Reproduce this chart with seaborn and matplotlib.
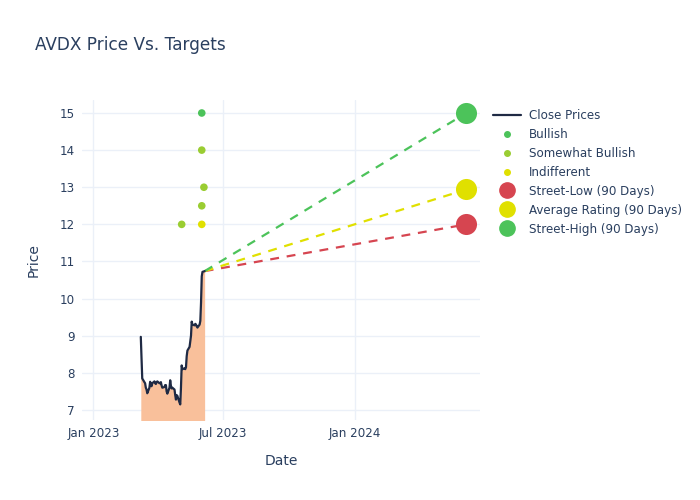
import numpy as np
import pandas as pd
import matplotlib
matplotlib.use('Agg')
import matplotlib.pyplot as plt
import matplotlib.dates as mdates
from matplotlib.lines import Line2D
import seaborn as sns

# ── Data ───────────────────────────────────────────────────────────────────────
close_dates = pd.bdate_range('2023-03-08', '2023-06-05')
close_prices = [
    8.97, 8.40, 7.85, 7.75, 7.72, 7.60, 7.55, 7.45, 7.60, 7.76,
    7.70, 7.64, 7.72, 7.77, 7.72, 7.70, 7.75, 7.77, 7.72, 7.72,
    7.75, 7.66, 7.60, 7.62, 7.67, 7.67, 7.50, 7.44, 7.60, 7.80,
    7.65, 7.58, 7.60, 7.55, 7.40, 7.28, 7.40, 7.38, 7.20, 7.15,
    7.60, 8.20, 8.10, 8.12, 8.10, 8.15, 8.45, 8.60, 8.70, 8.85,
    9.00, 9.38, 9.30, 9.28, 9.32, 9.30, 9.25, 9.22, 9.30, 9.40,
    9.90, 10.60, 10.72, 10.74,
]

rating_dates = ['2023-06-01', '2023-06-01', '2023-06-04', '2023-06-01', '2023-05-04', '2023-06-01']
rating_targets = [15.0, 14.0, 13.0, 12.5, 12.0, 12.0]
rating_labels = ['Bullish', 'Somewhat Bullish', 'Somewhat Bullish',
                 'Somewhat Bullish', 'Somewhat Bullish', 'Indifferent']

target_date = '2024-06-04'
street_low = 12.0
street_avg = 12.94
street_high = 15.0

# ── Styling ────────────────────────────────────────────────────────────────────
TEXT = '#2a3f5f'
GRID = '#ebf0f8'
LINE = '#1f2a44'
FILL = '#f9c09b'
C_BULL = '#4cc35a'
C_SBULL = '#9acd32'
C_IND = '#e0e000'
C_LOW = '#d64550'
C_AVG = '#e0e000'
C_HIGH = '#4cc35a'
rating_palette = {'Bullish': C_BULL, 'Somewhat Bullish': C_SBULL, 'Indifferent': C_IND}

sns.set_theme(style='white')
plt.rcParams['font.family'] = ['DejaVu Sans']

df_close = pd.DataFrame({'Date': close_dates[:len(close_prices)], 'Close': close_prices})
df_rate = pd.DataFrame({'Date': pd.to_datetime(rating_dates),
                        'Target': rating_targets, 'Rating': rating_labels})

fig = plt.figure(figsize=(7, 5), dpi=100)
ax = fig.add_axes([82 / 700, 80 / 500, 398 / 700, 320 / 500])

# price fill + line
ax.fill_between(df_close['Date'], 6.5, df_close['Close'], color=FILL, linewidth=0, zorder=1)
sns.lineplot(data=df_close, x='Date', y='Close', color=LINE, linewidth=1.6, ax=ax, zorder=3)

# dashed projections
last_date = df_close['Date'].iloc[-1]
last_price = df_close['Close'].iloc[-1]
t_date = pd.Timestamp(target_date)
for val, col in [(street_low, C_LOW), (street_avg, C_AVG), (street_high, C_HIGH)]:
    ax.plot([last_date, t_date], [last_price, val], color=col, linewidth=1.6,
            linestyle=(0, (4, 3.5)), zorder=2)

# analyst ratings
sns.scatterplot(data=df_rate, x='Date', y='Target', hue='Rating', palette=rating_palette,
                s=30, linewidth=0, legend=False, ax=ax, zorder=4)

# street targets
for val, col in [(street_low, C_LOW), (street_avg, C_AVG), (street_high, C_HIGH)]:
    ax.scatter([t_date], [val], s=230, color=col, linewidth=0, zorder=5)

# axes
ax.set_xlim(pd.Timestamp('2022-12-16'), pd.Timestamp('2024-06-23'))
ax.set_ylim(6.73, 15.35)
ax.set_yticks(range(7, 16))
ax.xaxis.set_major_locator(mdates.MonthLocator(bymonth=[1, 7]))
ax.xaxis.set_major_formatter(mdates.DateFormatter('%b %Y'))
ax.grid(True, color=GRID, linewidth=1)
ax.set_axisbelow(True)
for sp in ax.spines.values():
    sp.set_visible(False)
ax.tick_params(axis='both', length=0, labelsize=8.6, colors=TEXT, pad=5)
ax.set_xlabel('Date', fontsize=10, color=TEXT, labelpad=10)
ax.set_ylabel('Price', fontsize=10, color=TEXT, labelpad=14)

fig.text(35 / 700, 1 - 45 / 500, 'AVDX Price Vs. Targets', fontsize=12.2, color=TEXT, va='center')

handles = [
    Line2D([], [], color=LINE, linewidth=1.6),
    Line2D([], [], marker='o', linestyle='', color=C_BULL, markersize=4),
    Line2D([], [], marker='o', linestyle='', color=C_SBULL, markersize=4),
    Line2D([], [], marker='o', linestyle='', color=C_IND, markersize=4),
    Line2D([], [], marker='o', linestyle='', color=C_LOW, markersize=11),
    Line2D([], [], marker='o', linestyle='', color=C_AVG, markersize=11),
    Line2D([], [], marker='o', linestyle='', color=C_HIGH, markersize=11),
]
labels = ['Close Prices', 'Bullish', 'Somewhat Bullish', 'Indifferent',
          'Street-Low (90 Days)', 'Average Rating (90 Days)', 'Street-High (90 Days)']
leg = fig.legend(handles, labels, loc='upper left', bbox_to_anchor=(488 / 700, 1 - 104 / 500),
                 frameon=False, fontsize=8.6, labelspacing=0.5, handlelength=2.4,
                 handletextpad=0.6, borderaxespad=0)
for t in leg.get_texts():
    t.set_color(TEXT)

fig.savefig('out.png', dpi=100)
